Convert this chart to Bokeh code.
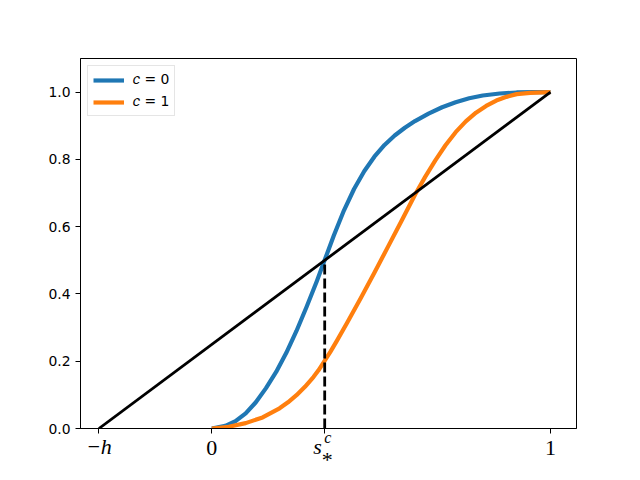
from bokeh.plotting import figure
from bokeh.models import (Range1d, FixedTicker, Legend, LegendItem, LinearAxis,
                          PrintfTickFormatter)
from bokeh.embed import file_html
from bokeh.resources import INLINE

# ---- data ----
h = 1/3
s_star = 1/3

blue_x = [0.0, 0.04, 0.07, 0.10, 0.13, 0.16, 0.19, 0.22, 0.25, 0.28, 0.31, 0.333,
          0.36, 0.39, 0.42, 0.45, 0.48, 0.51, 0.54, 0.57, 0.60, 0.64, 0.68, 0.72,
          0.76, 0.80, 0.85, 0.90, 0.95, 1.0]
blue_y = [0.0, 0.008, 0.022, 0.045, 0.078, 0.12, 0.168, 0.225, 0.29, 0.362, 0.438, 0.50,
          0.573, 0.648, 0.712, 0.765, 0.808, 0.843, 0.871, 0.894, 0.914, 0.936, 0.955,
          0.970, 0.982, 0.990, 0.996, 0.999, 1.0, 1.0]

orange_x = [0.0, 0.05, 0.10, 0.15, 0.20, 0.225, 0.25, 0.275, 0.30, 0.315, 0.333, 0.35,
            0.37, 0.40, 0.44, 0.48, 0.52, 0.56, 0.60, 0.63, 0.66, 0.69, 0.72, 0.75,
            0.78, 0.81, 0.84, 0.87, 0.90, 0.94, 1.0]
orange_y = [0.0, 0.005, 0.016, 0.033, 0.060, 0.078, 0.099, 0.124, 0.153, 0.173, 0.201,
            0.228, 0.262, 0.315, 0.388, 0.463, 0.540, 0.617, 0.695, 0.748, 0.797, 0.842,
            0.881, 0.913, 0.939, 0.959, 0.975, 0.986, 0.994, 0.998, 1.0]

diag_x = [-h, 1.0]
diag_y = [0.0, 1.0]

dash_x = [s_star, s_star]
dash_y = [0.0, 0.5]

series_labels = ["𝑐 = 0", "𝑐 = 1"]
series_colors = ["#1f77b4", "#ff7f0e"]

xtick_vals = [-h, 0.0, s_star, 1.0]
italic_text = ["−h", "s"]
ytick_vals = [0.0, 0.2, 0.4, 0.6, 0.8, 1.0]

# ---- figure ----
p = figure(width=632, height=478,
           x_range=Range1d(-0.3877, 1.0768), y_range=Range1d(0, 1.1),
           output_backend="svg", toolbar_location=None,
           min_border_left=80, min_border_right=56,
           min_border_top=58, min_border_bottom=50)
p.background_fill_color = "white"
p.border_fill_color = "white"
p.outline_line_color = "black"
p.outline_line_width = 1
p.outline_line_alpha = 1
p.xgrid.visible = False
p.ygrid.visible = False

for ax in (p.xaxis[0], p.yaxis[0]):
    ax.axis_line_color = "black"
    ax.axis_line_width = 1
    ax.major_tick_line_color = "black"
    ax.major_tick_line_width = 1
    ax.major_tick_in = 0
    ax.major_tick_out = 5
    ax.minor_tick_line_color = None
    ax.major_label_standoff = 5

p.yaxis.ticker = FixedTicker(ticks=ytick_vals)
p.yaxis.formatter = PrintfTickFormatter(format="%.1f")
p.yaxis.major_label_text_font = "DejaVu Sans"
p.yaxis.major_label_text_font_size = "13.9px"
p.yaxis.major_label_text_color = "black"

# main x axis: tick marks at all four positions, upright labels 0 and 1
p.xaxis.ticker = FixedTicker(ticks=xtick_vals)
p.xaxis.major_label_overrides = {-h: "", 0.0: "0", s_star: "", 1.0: "1"}
p.xaxis.major_label_text_font = "Liberation Serif"
p.xaxis.major_label_text_font_size = "22px"
p.xaxis.major_label_text_color = "black"
p.xaxis.major_label_standoff = 7


def text_axis(ticks, labels, size, style, standoff):
    ax = LinearAxis(ticker=FixedTicker(ticks=ticks))
    ax.major_label_overrides = dict(zip(ticks, labels))
    ax.axis_line_color = None
    ax.major_tick_line_color = None
    ax.minor_tick_line_color = None
    ax.major_tick_in = 0
    ax.major_tick_out = 0
    ax.major_label_standoff = standoff
    ax.major_label_text_font = "Liberation Serif"
    ax.major_label_text_font_style = style
    ax.major_label_text_font_size = size
    ax.major_label_text_color = "black"
    p.add_layout(ax, "below")


# italic symbols  -h  and  s  (s sits a little left of its tick)
text_axis([-h, s_star - 0.021], italic_text, "22px", "italic", -24)
# subscript * and superscript c of s
text_axis([s_star + 0.0072], ["*"], "22px", "normal", -15)
text_axis([s_star + 0.0095], ["c"], "16px", "italic", -46)

rb = p.line(blue_x, blue_y, line_color=series_colors[0], line_width=4.2, line_join="round")
ro = p.line(orange_x, orange_y, line_color=series_colors[1], line_width=4.2, line_join="round")
p.line(diag_x, diag_y, line_color="black", line_width=2.8)
p.line(dash_x, dash_y, line_color="black", line_width=2.8, line_dash="10 4")

legend = Legend(items=[LegendItem(label=series_labels[0], renderers=[rb]),
                       LegendItem(label=series_labels[1], renderers=[ro])],
                location="top_left", margin=7, padding=5, spacing=5,
                glyph_width=31, glyph_height=16, label_height=16, label_standoff=9,
                label_text_font="DejaVu Sans", label_text_font_size="13.9px",
                label_text_color="black",
                border_line_color="#cccccc", border_line_width=1,
                background_fill_color="white", background_fill_alpha=0.8)
p.add_layout(legend)

open("out.html", "w").write(file_html(p, INLINE))
